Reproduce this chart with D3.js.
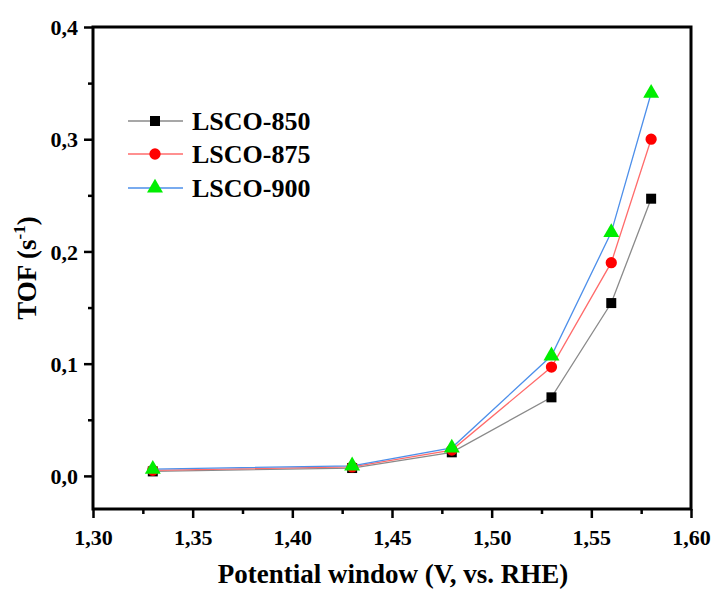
<!DOCTYPE html>
<html>
<head>
<meta charset="utf-8">
<script src="https://cdn.jsdelivr.net/npm/d3@7"></script>
<style>
body{margin:0;background:#fff;}
text{font-family:"Liberation Serif","Times New Roman",serif;font-weight:bold;}
</style>
</head>
<body>
<svg id="chart" width="713" height="590"></svg>
<script>
// potential values (V vs RHE)
var potential = [1.33, 1.43, 1.48, 1.53, 1.56, 1.58];
var lsco850 = [0.004, 0.007, 0.021, 0.070, 0.154, 0.247];
var lsco875 = [0.005, 0.008, 0.023, 0.097, 0.190, 0.300];
var lsco900 = [0.006, 0.009, 0.025, 0.107, 0.217, 0.341];
var seriesNames = ["LSCO-850", "LSCO-875", "LSCO-900"];
var xTicks = [1.30, 1.35, 1.40, 1.45, 1.50, 1.55, 1.60];
var yTicks = [0.0, 0.1, 0.2, 0.3, 0.4];

var W = 713, H = 590;
var m = {left:93, right:22, top:27, bottom:81};
var svg = d3.select('#chart');

var x = d3.scaleLinear().domain([1.30, 1.60]).range([m.left, W-m.right]);
var y = d3.scaleLinear().domain([-0.0295, 0.4]).range([H-m.bottom, m.top]);

var comma = function(d, n){ return d.toFixed(n).replace('.', ','); };

var series = [
    {name:seriesNames[0], vals:lsco850, line:"#8a8a8a", fill:"#000000", shape:d3.symbolSquare, size:100},
    {name:seriesNames[1], vals:lsco875, line:"#ff6b6b", fill:"#ff0000", shape:d3.symbolCircle, size:100},
    {name:seriesNames[2], vals:lsco900, line:"#4d8fea", fill:"#00ee00", shape:d3.symbolTriangle, size:110}
];

var line = d3.line().x(function(d){return x(d[0]);}).y(function(d){return y(d[1]);});

// lines first, then markers on top
series.forEach(function(s){
    svg.append('path')
        .datum(d3.zip(potential, s.vals))
        .attr('d', line)
        .attr('fill', 'none')
        .attr('stroke', s.line)
        .attr('stroke-width', 1.3);
});
series.forEach(function(s){
    svg.selectAll(null).data(d3.zip(potential, s.vals)).enter()
        .append('path')
        .attr('d', d3.symbol().type(s.shape).size(s.size))
        .attr('transform', function(d){
            return 'translate(' + x(d[0]) + ',' + y(d[1]) + ')';
        })
        .attr('fill', s.fill);
});

// minor ticks
var xMinor = d3.range(1.325, 1.6, 0.05);
var yMinor = [0.05, 0.15, 0.25, 0.35];

var xAxis = d3.axisBottom(x).tickValues(xTicks).tickSize(9).tickFormat(function(d){return comma(d,2);});
var yAxis = d3.axisLeft(y).tickValues(yTicks).tickSize(9).tickFormat(function(d){return comma(d,1);});

var gx = svg.append('g').attr('transform', 'translate(0,' + (H-m.bottom) + ')').call(xAxis);
var gy = svg.append('g').attr('transform', 'translate(' + m.left + ',0)').call(yAxis);

svg.append('g').attr('transform', 'translate(0,' + (H-m.bottom) + ')')
    .call(d3.axisBottom(x).tickValues(xMinor).tickSize(5).tickFormat(''))
    .select('.domain').remove();
svg.append('g').attr('transform', 'translate(' + m.left + ',0)')
    .call(d3.axisLeft(y).tickValues(yMinor).tickSize(5).tickFormat(''))
    .select('.domain').remove();

svg.selectAll('.tick line').attr('stroke', '#000').attr('stroke-width', 2.5);
gx.selectAll('.tick text').attr('font-size', 22).attr('fill', '#000').attr('dy', 0).attr('y', 36);
gy.selectAll('.tick text').attr('font-size', 22).attr('fill', '#000').attr('x', -15).attr('dy', '0.35em');
svg.selectAll('.domain').remove();

// frame
svg.append('rect')
    .attr('x', m.left).attr('y', m.top)
    .attr('width', W-m.left-m.right).attr('height', H-m.top-m.bottom)
    .attr('fill', 'none').attr('stroke', '#000').attr('stroke-width', 3);

// axis titles
svg.append('text')
    .attr('x', (213+573)/2).attr('y', 583)
    .attr('text-anchor', 'middle').attr('font-size', 27)
    .text('Potential window (V, vs. RHE)');

var yt = svg.append('text')
    .attr('transform', 'translate(36,268) rotate(-90)')
    .attr('text-anchor', 'middle').attr('font-size', 27);
yt.append('tspan').text('TOF (s');
yt.append('tspan').attr('font-size', 17).attr('dy', -11).text('-1');
yt.append('tspan').attr('dy', 11).text(')');

// legend
var legendY = [121, 154, 188];
series.forEach(function(s, i){
    var g = svg.append('g').attr('transform', 'translate(0,' + legendY[i] + ')');
    g.append('line').attr('x1', 128).attr('x2', 183)
        .attr('stroke', s.line).attr('stroke-width', 1.5);
    g.append('path')
        .attr('d', d3.symbol().type(s.shape).size(s.size))
        .attr('transform', 'translate(155,0)')
        .attr('fill', s.fill);
    g.append('text').attr('x', 192).attr('y', 9).attr('font-size', 26).text(s.name);
});
</script>
</body>
</html>
